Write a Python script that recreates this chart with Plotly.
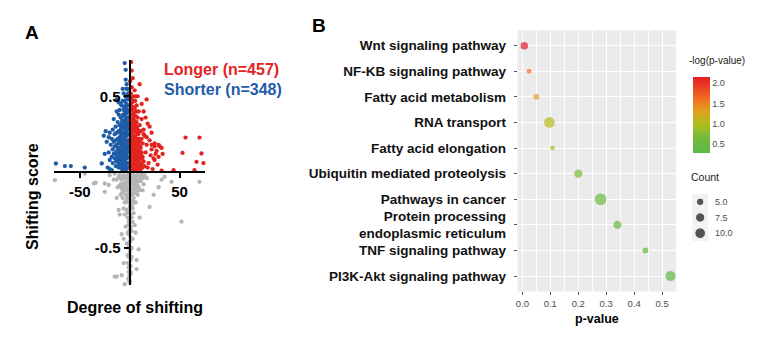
import numpy as np
import plotly.graph_objects as go

# ---------------- Panel A data (degree of shifting, shifting score) ----------------
longer_x = [1,1,1,1,1,1,1,1, 2,2,2,2,2,2,2,2, 3,3,3,3,3,3,3, 4,4,4,4,4,4,4,
            5,5,5,5,5,5,5, 6,6,6,6,6,6, 7,7,7,7,7,7, 8,8,8,8,8,8, 9,9,9,9,9,
            10,10,10,10,10, 11,11,11,11, 12,12,12,12, 13,13,13,14,14,15,15,16,17,17,18,
            19,20,21,22,23,24,25,26,27,28,29,30,32,33,44,53,56,65,67,70,72,74,
            1.5,3,6,12,8,14,16,20,22,25,18,2,14,17,22,25,29,32,
            0.5,0.5,0.5,0.5, 1.5,1.5,1.5,1.5,1.5,1.5,1.5, 2.5,2.5,2.5,2.5,2.5,2.5,2.5,
            3.5,3.5,3.5,3.5,3.5,3.5, 4.5,4.5,4.5,4.5,4.5,4.5, 5.5,5.5,5.5,5.5,5.5,5.5,
            6.5,6.5,6.5,6.5,6.5, 7.5,7.5,7.5,7.5,7.5, 8.5,8.5,8.5,8.5, 9.5,9.5,9.5,
            10.5,10.5,10.5,11.5,11.5,12.5]
longer_y = [0.02,0.08,0.15,0.22,0.30,0.38,0.45,0.52, 0.04,0.11,0.18,0.26,0.33,0.41,0.49,0.56,
            0.01,0.07,0.13,0.20,0.28,0.35,0.43, 0.03,0.10,0.16,0.24,0.31,0.39,0.47,
            0.05,0.12,0.19,0.27,0.34,0.42,0.54, 0.02,0.09,0.15,0.22,0.30,0.37,
            0.04,0.11,0.18,0.25,0.33,0.44, 0.01,0.07,0.14,0.21,0.28,0.36,
            0.03,0.10,0.17,0.26,0.40, 0.05,0.12,0.20,0.31,0.58, 0.02,0.09,0.16,0.27,
            0.06,0.13,0.22,0.35, 0.03,0.10,0.19,0.07,0.28,0.24,0.04,0.13,0.48,0.18,0.32,
            0.06,0.21,0.11,0.15,0.02,0.09,0.17,0.12,0.14,0.05,0.10,0.17,0.16,0.12,0.013,0.127,0.228,0.013,0.068,0.228,0.123,0.06,
            0.726,0.62,0.50,0.45,0.50,0.40,0.36,0.30,0.26,0.08,0.03,0.67,0.25,0.23,0.18,0.19,0.18,0.01,
            0.05,0.19,0.34,0.60, 0.05,0.12,0.19,0.26,0.34,0.42,0.49, 0.02,0.09,0.16,0.23,0.31,0.38,0.46,
            0.05,0.12,0.19,0.27,0.35,0.50, 0.01,0.08,0.14,0.21,0.29,0.37, 0.04,0.10,0.17,0.24,0.32,0.47,
            0.07,0.13,0.20,0.28,0.40, 0.02,0.09,0.15,0.22,0.30, 0.05,0.11,0.18,0.25, 0.08,0.14,0.22,
            0.03,0.10,0.17,0.05,0.12,0.09]

shorter_x = [-1,-1,-1,-1,-1,-1,-1, -2,-2,-2,-2,-2,-2,-2, -3,-3,-3,-3,-3,-3,-3,
             -4,-4,-4,-4,-4,-4,-4,-4, -5,-5,-5,-5,-5,-5,-5,-5, -6,-6,-6,-6,-6,-6,-6,
             -7,-7,-7,-7,-7,-7, -8,-8,-8,-8,-8,-8, -9,-9,-9,-9,-9, -10,-10,-10,-10,-10,
             -11,-11,-11,-11,-11, -12,-12,-12,-12, -13,-13,-13,-13, -14,-14,-14,-14,
             -15,-15,-15,-16,-16,-16,-17,-17,-17,-18,-18,-18,-19,-20,-20,-21,-21,-22,-23,-24,-25,-26,-28,
             -45,-59,-65,-74, -9,-7,-3,-11,-13,-20,
             -0.5,-0.5,-0.5,-0.5, -1.5,-1.5,-1.5,-1.5,-1.5,-1.5,-1.5, -2.5,-2.5,-2.5,-2.5,-2.5,-2.5,-2.5,
             -3.5,-3.5,-3.5,-3.5,-3.5,-3.5,-3.5, -4.5,-4.5,-4.5,-4.5,-4.5,-4.5,-4.5,
             -5.5,-5.5,-5.5,-5.5,-5.5,-5.5, -6.5,-6.5,-6.5,-6.5,-6.5, -7.5,-7.5,-7.5,-7.5,-7.5,
             -8.5,-8.5,-8.5,-8.5, -9.5,-9.5,-9.5,-9.5, -10.5,-10.5,-10.5,-11.5,-11.5,-12.5,-12.5,-13.5]
shorter_y = [0.03,0.10,0.17,0.25,0.32,0.40,0.48, 0.06,0.13,0.21,0.29,0.36,0.44,0.55,
             0.02,0.09,0.16,0.24,0.31,0.39,0.50, 0.05,0.12,0.19,0.27,0.35,0.43,0.61,0.675,
             0.01,0.08,0.15,0.22,0.30,0.38,0.47,0.72, 0.04,0.11,0.18,0.26,0.33,0.41,0.52,
             0.06,0.14,0.21,0.29,0.37,0.47, 0.02,0.10,0.17,0.24,0.32,0.44,
             0.05,0.13,0.20,0.28,0.36, 0.08,0.16,0.23,0.31,0.41,
             0.03,0.12,0.19,0.27,0.38, 0.07,0.15,0.22,0.33, 0.10,0.18,0.26,0.48,
             0.04,0.13,0.21,0.30, 0.09,0.17,0.25,0.12,0.20,0.35,0.06,0.15,0.28,0.013,0.10,0.22,
             0.18,0.08,0.26,0.13,0.23,0.03,0.20,0.27,0.12,0.24,0.057,
             0.03,0.04,0.04,0.057, 0.45,0.55,0.58,0.46,0.40,0.02,
             0.06,0.20,0.36,0.52, 0.06,0.14,0.21,0.28,0.36,0.44,0.52, 0.03,0.10,0.17,0.25,0.33,0.41,0.48,
             0.06,0.13,0.20,0.28,0.36,0.45,0.55, 0.02,0.09,0.16,0.24,0.32,0.40,0.50,
             0.05,0.12,0.19,0.26,0.34,0.43, 0.08,0.15,0.22,0.30,0.38, 0.03,0.11,0.18,0.26,0.34,
             0.07,0.14,0.21,0.30, 0.04,0.11,0.19,0.26, 0.06,0.14,0.21,0.09,0.16,0.04,0.12,0.07]

other_x = [0,-1,1,0,-1,1,0,-1,1,0,-1,1,0,-1,1,0,-1,1,0,-1,1,0,-1,1,0,-1,1,0,-1,0,
           -10,-8,-6,-4,-2,2,4,6,8,10,12, -9,-7,-5,-3,-2,2,3,5,7,9,11,
           -6,-4,-3,-2,3,4,6,8,-8,-5,5,2,-3,4,-2,3,-4,2,-3,2,-2,3,-6,-8,9,7,7,-8,-13,-15,-5,
           -11,-10,-13,-21,-25,-20,-25,-36,-34,-75,-45,-15,15,20,24,29,32,35,42,52,70,14,17,-12,10,-6,5,-5,6,13,-16,1,-1,
           -1,1,0,-3,3,-5,5,-7,7,-9,9,-11,11,-13,13, -1,1,-4,4,-6,6,-8,8,-10,10,
           -1,1,-2,2,-4,3,-1,1,-2,2,-1,1,-2,1,-1,2,-2,1,-1,0,-5,5,-7,7,-9,6,-6,3]
other_y = [-0.01,-0.03,-0.06,-0.08,-0.11,-0.13,-0.16,-0.18,-0.21,-0.23,-0.26,-0.28,-0.31,-0.33,-0.36,
           -0.38,-0.41,-0.43,-0.46,-0.48,-0.51,-0.53,-0.56,-0.58,-0.61,-0.63,-0.66,-0.68,-0.71,-0.73,
           -0.02,-0.05,-0.02,-0.04,-0.02,-0.03,-0.02,-0.05,-0.02,-0.04,-0.01,
           -0.08,-0.10,-0.07,-0.09,-0.12,-0.08,-0.11,-0.09,-0.07,-0.10,-0.06,
           -0.13,-0.15,-0.18,-0.06,-0.14,-0.17,-0.12,-0.15,-0.14,-0.20,-0.20,-0.22,-0.25,-0.27,-0.30,-0.33,
           -0.36,-0.39,-0.47,-0.50,-0.55,-0.44,-0.44,-0.41,-0.51,-0.58,-0.64,-0.68,-0.69,-0.69,-0.74,
           -0.25,-0.28,-0.17,-0.085,-0.13,-0.02,-0.075,-0.075,-0.07,-0.053,-0.01,-0.01,-0.02,-0.23,-0.15,
           -0.10,-0.05,-0.03,-0.064,-0.327,-0.064,-0.08,-0.04,-0.10,-0.30,-0.60,-0.35,-0.28,-0.40,-0.12,-0.05,-0.62,-0.66,
           -0.02,-0.015,-0.045,-0.03,-0.05,-0.035,-0.03,-0.045,-0.025,-0.04,-0.06,-0.03,-0.025,-0.05,-0.04,
           -0.07,-0.09,-0.10,-0.07,-0.08,-0.10,-0.11,-0.09,-0.09,-0.12,
           -0.14,-0.12,-0.16,-0.15,-0.20,-0.19,-0.20,-0.24,-0.27,-0.30,-0.35,-0.38,-0.40,-0.45,-0.50,-0.56,
           -0.60,-0.67,-0.70,-0.72,-0.12,-0.14,-0.17,-0.13,-0.15,-0.20,-0.24,-0.24]

# ---------------- Panel B data ----------------
pathways = ["Wnt signaling pathway", "NF-KB signaling pathway", "Fatty acid metabolism",
            "RNA transport", "Fatty acid elongation", "Ubiquitin mediated proteolysis",
            "Pathways in cancer", "Protein processing<br>endoplasmic reticulum",
            "TNF signaling pathway", "PI3K-Akt signaling pathway"]
p_values = [0.007, 0.024, 0.05, 0.097, 0.108, 0.20, 0.28, 0.34, 0.44, 0.53]
counts = [5, 2, 3, 10, 2, 6, 12, 6, 3, 9]
count_breaks = [5.0, 7.5, 10.0]
count_labels = ["5.0", "7.5", "10.0"]
x_ticks = [0.0, 0.1, 0.2, 0.3, 0.4, 0.5]
cbar_ticks = [0.5, 1.0, 1.5, 2.0]

W, H = 768, 339
FONT = "Liberation Sans, Arial, sans-serif"
RED, BLUE, GREY = "#e2231f", "#1f5ca8", "#b5b5b5"

neglog = -np.log10(np.array(p_values))

fig = go.Figure()

# Panel A geometry
xa_dom = [52 / W, 204 / W]
ya_dom = [1 - 285 / H, 1 - 60 / H]
xa_rng = [-76, 76]
ya_rng = [-0.745, 0.74]
yaxis_pos = xa_dom[0] + (0 - xa_rng[0]) / (xa_rng[1] - xa_rng[0]) * (xa_dom[1] - xa_dom[0])
xaxis_pos = ya_dom[0] + (0 - ya_rng[0]) / (ya_rng[1] - ya_rng[0]) * (ya_dom[1] - ya_dom[0])

for xs, ys, col in [(other_x, other_y, GREY), (shorter_x, shorter_y, BLUE), (longer_x, longer_y, RED)]:
    fig.add_trace(go.Scatter(x=xs, y=ys, mode="markers", xaxis="x", yaxis="y",
                             marker=dict(size=4.3, color=col, line=dict(width=0)),
                             cliponaxis=False, showlegend=False, hoverinfo="skip"))

# Panel B bubbles
cmin, cmax = float(neglog.min()), float(neglog.max())
colorscale = [[0, "#5bb947"], [0.2, "#74ba3c"], [0.38, "#b3bd1c"], [0.55, "#e0a01c"],
              [0.72, "#ef6c22"], [0.88, "#eb3c24"], [1, "#e41e26"]]
SIZEREF = 0.175
fig.add_trace(go.Scatter(
    x=p_values, y=pathways, mode="markers", xaxis="x2", yaxis="y2", showlegend=False,
    marker=dict(size=counts, sizemode="area", sizeref=SIZEREF, color=neglog,
                colorscale=colorscale, cmin=cmin, cmax=cmax, line=dict(width=0),
                colorbar=dict(x=693 / W, xanchor="left", xpad=0, ypad=0,
                              y=1 - 115 / H, yanchor="middle", len=76 / H, lenmode="fraction",
                              thickness=17, outlinewidth=0, tickvals=cbar_ticks,
                              ticktext=["0.5", "1.0", "1.5", "2.0"], ticks="",
                              tickfont=dict(size=9, color="#4d4d4d", family=FONT)))))

# Count legend (size scale)
fig.add_trace(go.Scatter(
    x=[1, 1, 1], y=[0, 1, 2], mode="markers", xaxis="x3", yaxis="y3", showlegend=False,
    marker=dict(size=count_breaks, sizemode="area", sizeref=SIZEREF, color="#111111"),
    hoverinfo="skip"))

annotations = []
for i, lab in enumerate(count_labels):
    annotations.append(dict(x=2.3, y=i, xref="x3", yref="y3", text=lab, showarrow=False,
                            xanchor="left", yanchor="middle",
                            font=dict(size=9, color="#4d4d4d", family=FONT)))

annotations += [
    dict(x=21 / W, y=1 - 32 / H, xref="paper", yref="paper", text="<b>A</b>", showarrow=False,
         xanchor="left", yanchor="middle", font=dict(size=19, color="black", family=FONT)),
    dict(x=309 / W, y=1 - 25 / H, xref="paper", yref="paper", text="<b>B</b>", showarrow=False,
         xanchor="left", yanchor="middle", font=dict(size=19, color="black", family=FONT)),
    dict(x=160 / W, y=1 - 69 / H, xref="paper", yref="paper", text="<b>Longer (n=457)</b>",
         showarrow=False, xanchor="left", yanchor="middle", font=dict(size=16, color=RED, family=FONT)),
    dict(x=160 / W, y=1 - 89 / H, xref="paper", yref="paper", text="<b>Shorter (n=348)</b>",
         showarrow=False, xanchor="left", yanchor="middle", font=dict(size=16, color=BLUE, family=FONT)),
    dict(x=133 / W, y=1 - 307 / H, xref="paper", yref="paper", text="<b>Degree of shifting</b>",
         showarrow=False, xanchor="center", yanchor="middle", font=dict(size=16, color="black", family=FONT)),
    dict(x=30 / W, y=1 - 196 / H, xref="paper", yref="paper", text="<b>Shifting score</b>", textangle=-90,
         showarrow=False, xanchor="center", yanchor="middle", font=dict(size=16, color="black", family=FONT)),
    dict(x=597 / W, y=1 - 319 / H, xref="paper", yref="paper", text="<b>p-value</b>",
         showarrow=False, xanchor="center", yanchor="middle", font=dict(size=12.5, color="black", family=FONT)),
    dict(x=687 / W, y=1 - 61 / H, xref="paper", yref="paper", text="-log(p-value)",
         showarrow=False, xanchor="left", yanchor="middle", font=dict(size=10, color="#222", family=FONT)),
    dict(x=689 / W, y=1 - 177 / H, xref="paper", yref="paper", text="Count",
         showarrow=False, xanchor="left", yanchor="middle", font=dict(size=10.5, color="#222", family=FONT)),
]

shapes = [
    dict(type="rect", xref="x2 domain", yref="y2 domain", x0=0, x1=1, y0=0, y1=1,
         fillcolor="#ebebeb", line=dict(width=0), layer="below"),
    dict(type="rect", xref="paper", yref="paper", x0=692 / W, x1=708 / W, y0=1 - 241 / H, y1=1 - 194 / H,
         fillcolor="#f2f2f2", line=dict(width=0), layer="below"),
]

fig.update_layout(
    width=W, height=H, margin=dict(l=0, r=0, t=0, b=0),
    paper_bgcolor="white", plot_bgcolor="rgba(0,0,0,0)",
    font=dict(family=FONT, color="black"),
    annotations=annotations, shapes=shapes,
    xaxis=dict(domain=xa_dom, range=xa_rng, anchor="free", position=xaxis_pos,
               showline=True, linecolor="black", linewidth=2, showgrid=False, zeroline=False,
               tickvals=[-50, 50], ticktext=["-50", "50"], ticks="outside", ticklen=5, tickwidth=2,
               tickcolor="black", ticklabelstandoff=1,
               tickfont=dict(size=15, color="black", family=FONT, weight="bold")),
    yaxis=dict(domain=ya_dom, range=ya_rng, anchor="free", position=yaxis_pos,
               showline=True, linecolor="black", linewidth=2, showgrid=False, zeroline=False,
               tickvals=[-0.5, 0.5], ticktext=["-0.5", "0.5"], ticks="outside", ticklen=5, tickwidth=2,
               tickcolor="black", ticklabelstandoff=0,
               tickfont=dict(size=15, color="black", family=FONT, weight="bold")),
    xaxis2=dict(domain=[517 / W, 677 / W], anchor="y2", range=[-0.0168, 0.554],
                tickvals=x_ticks, ticktext=["%.1f" % v for v in x_ticks],
                showgrid=True, gridcolor="white", gridwidth=1.1, zeroline=False, showline=False,
                minor=dict(dtick=0.05, tick0=0, showgrid=True, gridcolor="white", gridwidth=0.5),
                ticks="outside", ticklen=3, tickcolor="#555", tickwidth=0.8,
                tickfont=dict(size=9.5, color="#4d4d4d", family=FONT)),
    yaxis2=dict(domain=[1 - 291.4 / H, 1 - 30.3 / H], anchor="x2", type="category",
                categoryorder="array", categoryarray=pathways[::-1], range=[-0.6, 9.6],
                showgrid=True, gridcolor="white", gridwidth=1.1, zeroline=False, showline=False,
                ticks="outside", ticklen=3, tickcolor="#555", tickwidth=0.8, ticklabelstandoff=5,
                tickfont=dict(size=13.5, color="#111", family=FONT, weight="bold")),
    xaxis3=dict(domain=[690 / W, 740 / W], anchor="y3", range=[0, 5], visible=False),
    yaxis3=dict(domain=[1 - 241 / H, 1 - 194 / H], anchor="x3", range=[2.5, -0.5], visible=False),
)

fig.write_html("out.html", config={"displayModeBar": False})
